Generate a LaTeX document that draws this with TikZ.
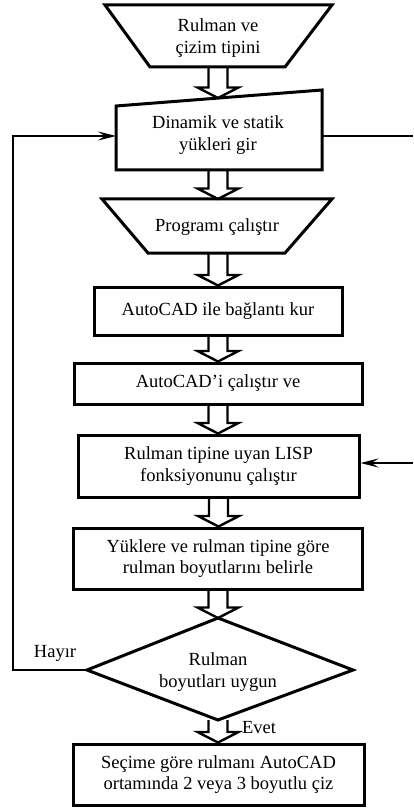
\documentclass[tikz,border=0pt]{standalone}
\usepackage{fontspec}
\setmainfont{Liberation Serif}
\usetikzlibrary{arrows.meta,calc}
\newcommand\fatarrow[2]{\draw[fat] let \p1=(#1), \p2=(#2) in
  (\x1-9.5pt,\y1) -- (\x1-9.5pt,\y2+10.5pt) -- (\x1-20.5pt,\y2+10.5pt) -- (\x1,\y2)
  -- (\x1+20.5pt,\y2+10.5pt) -- (\x1+9.5pt,\y2+10.5pt) -- (\x1+9.5pt,\y1);}
\begin{document}
\begin{tikzpicture}[x=1pt,y=-1pt,
  shapeline/.style={line width=3pt, line join=miter},
  box/.style={draw, shapeline, rectangle, inner sep=0pt, align=center,
    font=\fontsize{18.5}{21.5}\selectfont},
  txt/.style={inner sep=0pt, align=center, font=\fontsize{18.5}{21.5}\selectfont},
  fat/.style={line width=2.4pt, line join=miter},
  conn/.style={line width=2pt},
  tip/.style={-{Stealth[length=18pt,width=9pt,inset=7pt]}}]
\useasboundingbox (0,0) rectangle (413,810);

% top trapezoid
\draw[shapeline] (105,5) -- (332,5) -- (285,67) -- (150,67) -- cycle;
\node[txt] (t1) at (218,38) {Rulman ve\\çizim tipini};
\coordinate (t1s) at (218,67);

% manual input
\draw[shapeline] (116,106) -- (322,90) -- (322,170) -- (116,170) -- cycle;
\node[txt] (m) at (218,135) {Dinamik ve statik\\yükleri gir};
\coordinate (mN) at (218,98);
\coordinate (mS) at (218,170);
\coordinate (mW) at (116,136);
\coordinate (mE) at (322,136);

% second trapezoid
\draw[shapeline] (102,199) -- (332,199) -- (285,253) -- (148,253) -- cycle;
\node[txt] (t2) at (217,227) {Programı çalıştır};
\coordinate (t2n) at (218,199);
\coordinate (t2s) at (218,253);

% boxes
\node[box, minimum width=248pt, minimum height=48pt] (b1) at (218,311) {AutoCAD ile bağlantı kur};
\node[box, minimum width=288pt, minimum height=41pt] (b2) at (218,383.5) {AutoCAD’i çalıştır ve};
\node[box, minimum width=281pt, minimum height=62pt] (b3) at (218.5,466) {Rulman tipine uyan LISP\\fonksiyonunu çalıştır};
\node[box, minimum width=289pt, minimum height=61pt] (b4) at (218,558.5) {Yüklere ve rulman tipine göre\\rulman boyutlarını belirle};
\node[box, minimum width=291pt, minimum height=61pt] (b5) at (218.5,774.5) {Seçime göre rulmanı AutoCAD\\ortamında 2 veya 3 boyutlu çiz};

% diamond
\coordinate (dN) at (218,618);
\coordinate (dE) at (353,670);
\coordinate (dS) at (218,720);
\coordinate (dW) at (87,670);
\draw[shapeline] (dN) -- (dE) -- (dS) -- (dW) -- cycle;
\node[txt] (d) at (218,672) {Rulman\\boyutları uygun};

% fat arrows
\fatarrow{t1s}{mN}
\fatarrow{mS}{t2n}
\fatarrow{t2s}{b1.north}
\fatarrow{b1.south}{b2.north}
\fatarrow{b2.south}{b3.north}
\fatarrow{b3.south}{b4.north}
\fatarrow{b4.south}{dN}
\fatarrow{dS}{b5.north}

% feedback lines
\coordinate (lc) at (13,136);
\draw[conn, tip] (dW) -| (lc) -- (mW);
\coordinate (r1) at (413,136);
\draw[conn] (mE) -- (r1);
\coordinate (r2) at (413,463);
\draw[conn, tip] (r2) -- (r2 -| b3.east);

% labels
\node[txt] (hayir) at (55,653) {Hayır};
\node[txt] (evet) at (259,728) {Evet};
\end{tikzpicture}
\end{document}
